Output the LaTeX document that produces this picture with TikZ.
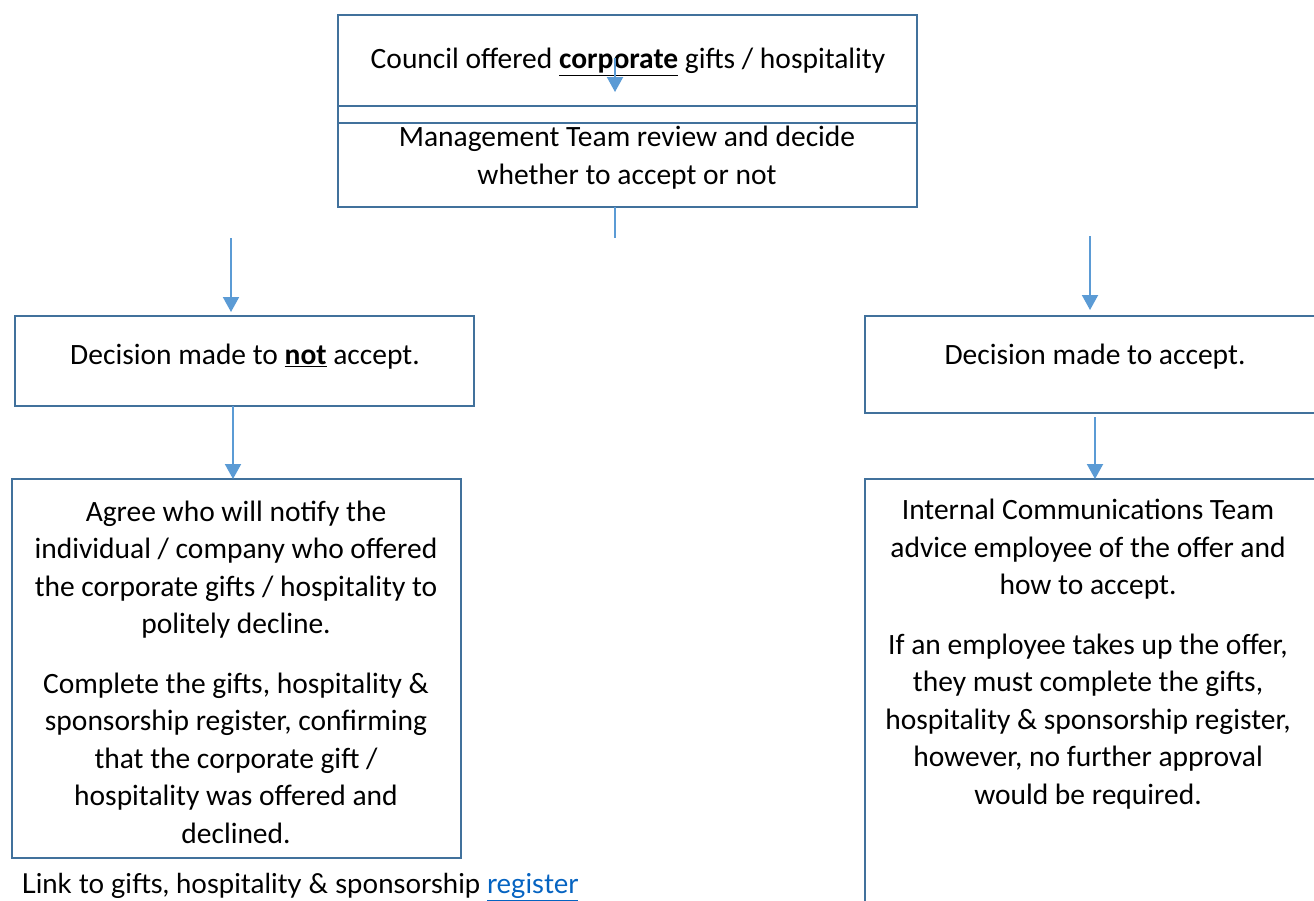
\documentclass[tikz,border=0pt]{standalone}
\usepackage{fontspec}
\setmainfont{Carlito}
\newfontfamily\linkfont{Lato}
\usetikzlibrary{arrows.meta}
\definecolor{boxblue}{HTML}{41719C}
\definecolor{arrblue}{HTML}{5B9BD5}
\definecolor{linkblue}{HTML}{0563C1}
\tikzset{
  box/.style={draw=boxblue, line width=2.8pt, inner sep=0pt, outer sep=0pt, anchor=north west},
  txt/.style={align=center, font=\fontsize{29.5}{37.5}\selectfont, inner sep=0pt},
  arr/.style={draw=arrblue, line width=2pt, -{Triangle[length=15pt,width=16pt]}},
  ln/.style={draw=arrblue, line width=2pt},
}
\begin{document}
\begin{tikzpicture}[x=1pt,y=-1pt]
\useasboundingbox (0,0) rectangle (1314,900);
\clip (0,0) rectangle (1314,900);
% boxes
\node[box, minimum width=579pt, minimum height=108pt] (b1) at (338,15) {};
\node[box, minimum width=579pt, minimum height=101pt] (b2) at (338,106) {};
\node[box, minimum width=459pt, minimum height=90pt] (b3) at (15,316) {};
\node[box, minimum width=449pt, minimum height=379pt] (b4) at (12,479) {};
\node[box, minimum width=460pt, minimum height=97pt] (b5) at (865,316) {};
\node[box, minimum width=460pt, minimum height=440pt] (b6) at (865,479) {};
% texts
\node[txt] (t1) at (628,62) {Council offered \underline{\textbf{corporate}} gifts / hospitality};
\node[txt] (t2) at (627,157.5) {Management Team review and decide\\whether to accept or not};
\node[txt] (t3) at (245,357) {Decision made to \underline{\textbf{not}} accept.};
\node[txt] (t5) at (1095,357) {Decision made to accept.};
\node[txt] (t4) at (236,672) {Agree who will notify the\\individual / company who offered\\the corporate gifts / hospitality to\\politely decline.\\[22pt]Complete the gifts, hospitality \&\\sponsorship register, confirming\\that the corporate gift /\\hospitality was offered and\\declined.};
\node[txt] (t6) at (1088,654) {Internal Communications Team\\advice employee of the offer and\\how to accept.\\[22pt]If an employee takes up the offer,\\they must complete the gifts,\\hospitality \& sponsorship register,\\however, no further approval\\would be required.};
\node[txt, font=\linkfont\fontsize{27.5}{30}\selectfont] (lk) at (300,887) {Link to gifts, hospitality \& sponsorship \textcolor{linkblue}{\underline{register}}};
% connector coordinates
\coordinate (s1) at (615,58);
\coordinate (e1) at (615,92);
\coordinate (s2) at (615,238);
\coordinate (sl) at (231,238);
\coordinate (el) at (231,312);
\coordinate (sr) at (1090,236);
\coordinate (er) at (1090,310);
\coordinate (xl) at (233,0);
% connectors
\draw[arr] (s1) -- (e1);
\draw[ln] (b2.south -| s2) -- (s2);
\draw[arr] (sl) -- (el);
\draw[arr] (sr) -- (er);
\draw[arr] (b3.south -| xl) -- (b4.north -| xl);
\draw[arr] ([yshift=-4pt]b5.south) -- (b6.north);
\end{tikzpicture}
\end{document}
